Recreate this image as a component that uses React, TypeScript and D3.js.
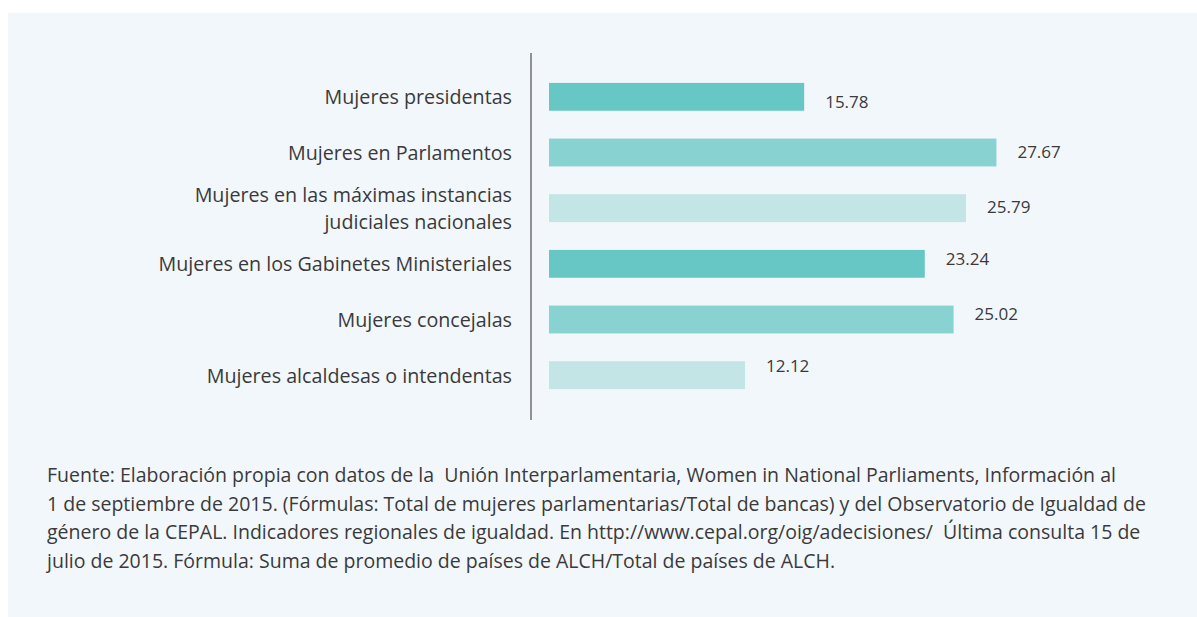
import React from "react";
import * as d3 from "d3";

const categories: string[][] = [
  ["Mujeres presidentas"],
  ["Mujeres en Parlamentos"],
  ["Mujeres en las máximas instancias", "judiciales nacionales"],
  ["Mujeres en los Gabinetes Ministeriales"],
  ["Mujeres concejalas"],
  ["Mujeres alcaldesas o intendentas"],
];
const values: number[] = [15.78, 27.67, 25.79, 23.24, 25.02, 12.12];
const valueLabels: string[] = ["15.78", "27.67", "25.79", "23.24", "25.02", "12.12"];
const barColors: string[] = ["#67c7c5", "#88d2d1", "#c4e5e6", "#67c7c5", "#88d2d1", "#c4e5e6"];
const sourceLines: string[] = [
  "Fuente: Elaboración propia con datos de la  Unión Interparlamentaria, Women in National Parliaments, Información al",
  "1 de septiembre de 2015. (Fórmulas: Total de mujeres parlamentarias/Total de bancas) y del Observatorio de Igualdad de",
  "género de la CEPAL. Indicadores regionales de igualdad. En http://www.cepal.org/oig/adecisiones/  Última consulta 15 de",
  "julio de 2015. Fórmula: Suma de promedio de países de ALCH/Total de países de ALCH.",
];

// layout-only label nudges (vertical offset of value labels from bar centre)
const valueLabelDy = [11, 5, 5, 1, 0, -3];

const W = 1197;
const H = 617;
const FONT = "'Open Sans', sans-serif";
const TEXT = "#3a3a3a";

export default function App() {
  const idx = values.map((_, i) => String(i));
  const y = d3.scaleBand<string>().domain(idx).range([69, 403]).paddingInner(0.5).paddingOuter(0.25);
  const x = d3.scaleLinear().domain([0, 30]).range([549, 549 + 30 * 16.17]);

  return (
    <svg
      width={W}
      height={H}
      style={{ position: "absolute", left: 0, top: 0, display: "block" }}
      fontFamily={FONT}
    >
      <rect x={0} y={0} width={W} height={H} fill="#ffffff" />
      <rect x={8} y={13} width={W - 8} height={H - 13} fill="#f2f7fb" />

      {values.map((v, i) => {
        const yc = (y(String(i)) as number) + y.bandwidth() / 2;
        const lines = categories[i];
        const lh = 27;
        const startY = yc - ((lines.length - 1) * lh) / 2 + 7.5;
        return (
          <g key={i}>
            <rect
              x={x(0)}
              y={y(String(i))}
              width={x(v) - x(0)}
              height={y.bandwidth()}
              fill={barColors[i]}
            />
            <text
              x={x(v) + 21}
              y={yc + valueLabelDy[i]}
              fontSize={17}
              fill={TEXT}
            >
              {valueLabels[i]}
            </text>
            <text x={512} textAnchor="end" fontSize={19.7} fill={TEXT}>
              {lines.map((l, j) => (
                <tspan key={j} x={512} y={startY + j * lh}>
                  {l}
                </tspan>
              ))}
            </text>
          </g>
        );
      })}

      <line x1={531} x2={531} y1={53} y2={420} stroke="#6f6f6f" strokeWidth={1.5} />

      {sourceLines.map((l, i) => (
        <text key={i} x={47} y={482 + i * 28.7} fontSize={19.5} fill={TEXT} xmlSpace="preserve">
          {l}
        </text>
      ))}
    </svg>
  );
}
